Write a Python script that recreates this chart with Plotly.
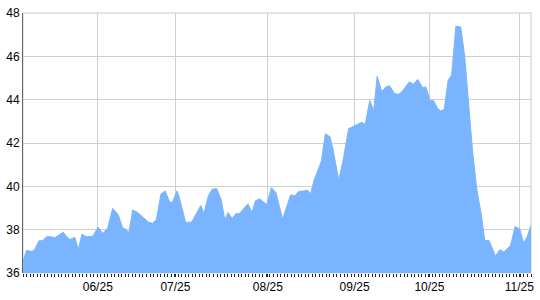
import plotly.graph_objects as go

# session index (trading-day position) and value
sessions = [0, 1.0, 2.5, 3.2, 4.5, 5.6, 6.7, 8.1, 9.0, 10.2, 11.4, 12.6, 13.4, 14.7, 15.7, 16.7,
            18.1, 19.8, 21.3, 22.6, 24.0, 25.4, 27.0, 28.3, 29.2, 30.0, 31.1, 32.5, 33.9, 35.6,
            36.7, 37.8, 39.1, 40.3, 41.6, 42.4, 43.6, 44.2, 46.1, 47.5, 48.0, 50.4, 51.3, 52.5,
            53.6, 54.9, 56.2, 57.2, 58.1, 59.3, 60.4, 61.3, 62.6, 63.8, 64.9, 65.9, 67.1, 69.1,
            70.4, 71.7, 73.6, 75.9, 77.1, 78.1, 79.7, 80.6, 81.5, 82.5, 84.6, 85.7, 87.0, 87.9,
            89.5, 90.7, 92.3, 94.5, 96.1, 97.0, 98.3, 99.4, 100.4, 101.7, 102.9, 103.9, 105.3,
            106.4, 107.4, 109.5, 110.7, 111.9, 113.3, 114.2, 115.4, 116.4, 117.5, 118.4, 119.4,
            120.5, 121.5, 122.7, 124.1, 125.2, 126.4, 127.4, 128.6, 129.9, 130.9, 132.1, 133.0,
            133.9, 135.2, 136.3, 138.2, 139.5, 140.8, 141.9, 142.9, 144.0]
values = [36.56, 37.04, 37.0, 37.05, 37.48, 37.5, 37.67, 37.67, 37.63, 37.75, 37.88, 37.63, 37.55,
          37.65, 37.08, 37.79, 37.67, 37.7, 38.12, 37.82, 38.07, 38.98, 38.69, 38.07, 38.02, 37.85,
          38.91, 38.79, 38.57, 38.34, 38.3, 38.45, 39.64, 39.79, 39.27, 39.27, 39.79, 39.55, 38.34,
          38.34, 38.4, 39.12, 38.75, 39.54, 39.86, 39.9, 39.38, 38.45, 38.79, 38.52, 38.75, 38.73,
          38.98, 39.19, 38.78, 39.34, 39.42, 39.16, 39.94, 39.71, 38.49, 39.61, 39.56, 39.76, 39.79,
          39.83, 39.65, 40.28, 41.17, 42.43, 42.29, 41.7, 40.28, 41.17, 42.66, 42.84, 42.96, 42.85,
          43.97, 43.48, 45.08, 44.37, 44.59, 44.64, 44.29, 44.25, 44.37, 44.82, 44.71, 44.94, 44.55,
          44.59, 43.95, 43.95, 43.6, 43.48, 43.55, 44.89, 45.14, 47.39, 47.35, 46.01, 43.48, 41.69,
          39.9, 38.71, 37.5, 37.5, 37.15, 36.78, 37.08, 36.97, 37.27, 38.15, 38.03, 37.38, 37.67,
          38.2]

tick_labels = ["06/25", "07/25", "08/25", "09/25", "10/25", "11/25"]
tick_sessions = [21.2, 43.2, 69.4, 94.0, 115.2, 140.7]
y_ticks = [36, 38, 40, 42, 44, 46, 48]

fig = go.Figure()
fig.add_trace(go.Scatter(
    x=sessions, y=values, mode="lines", fill="tozeroy",
    line=dict(color="#7ab4ff", width=1), fillcolor="#7ab4ff",
    hoverinfo="skip"))

fig.update_layout(
    width=540, height=300,
    margin=dict(l=23, r=6, t=8, b=22),
    plot_bgcolor="white", paper_bgcolor="white",
    showlegend=False,
    font=dict(family="Arial, Liberation Sans", size=12, color="#000"),
    shapes=[dict(type="rect", xref="paper", yref="paper", x0=0, x1=1, y0=0, y1=1,
                 line=dict(color="#c8c8c8", width=1), layer="below")],
)
fig.update_xaxes(
    range=[0, 144], tickmode="array", tickvals=tick_sessions, ticktext=tick_labels,
    showgrid=True, gridcolor="#d0d0d0", gridwidth=1,
    ticks="outside", ticklen=3, tickcolor="#222", tickwidth=1,
    minor=dict(dtick=1, tick0=0, ticks="outside", ticklen=3, tickcolor="#222", showgrid=False),
    showline=False, zeroline=False, layer="below traces",
)
fig.update_yaxes(
    range=[36, 48], tickmode="array", tickvals=y_ticks,
    showgrid=True, gridcolor="#d0d0d0", gridwidth=1,
    showline=True, linecolor="#666", linewidth=1,
    ticks="", zeroline=False, layer="above traces",
)

fig.write_html("out.html")
